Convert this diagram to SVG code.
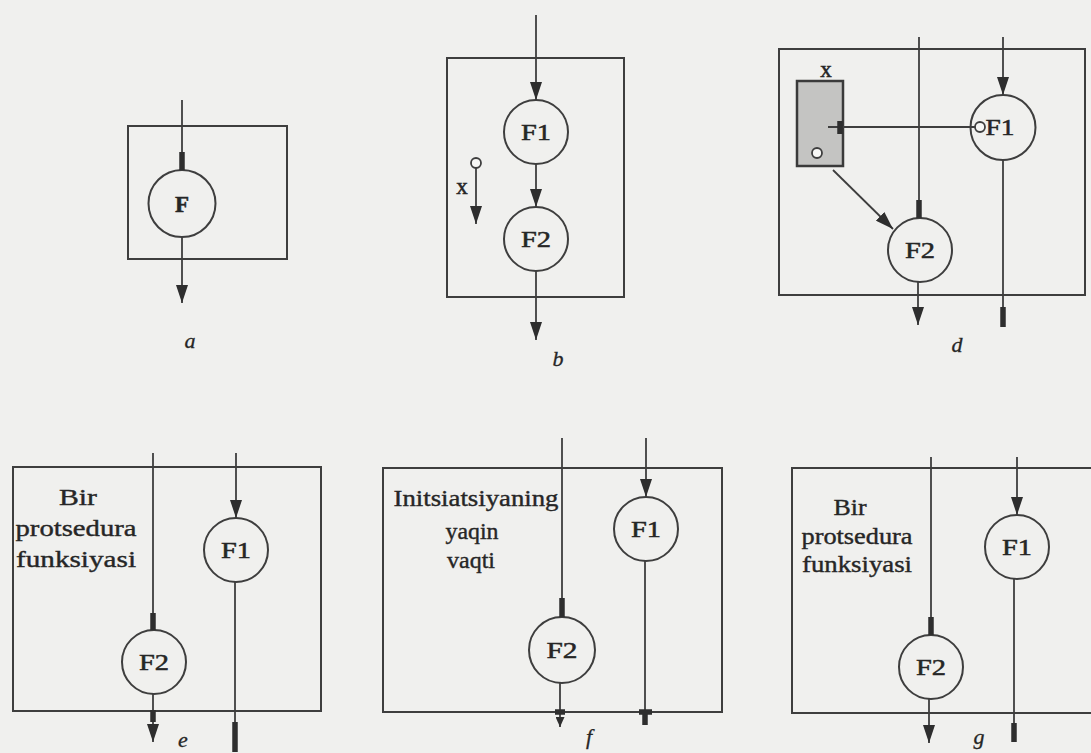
<svg xmlns="http://www.w3.org/2000/svg" width="1091" height="753" viewBox="0 0 1091 753">
<defs>
<style>
.bg{fill:#f0f0ee}
.box{fill:none;stroke:#3e3e3e;stroke-width:2}
.ln{fill:none;stroke:#3e3e3e;stroke-width:1.8}
.bar{fill:none;stroke:#2e2e2e;stroke-width:5.5}
.nd{fill:none;stroke:#3e3e3e;stroke-width:2}
.lbl{font-family:"Liberation Serif","Times New Roman",serif;font-size:23px;fill:#262626;stroke:#262626;stroke-width:0.5;text-anchor:middle}
.txt{font-family:"Liberation Serif","Times New Roman",serif;font-size:24px;fill:#262626;stroke:#262626;stroke-width:0.4;text-anchor:middle}
.cap{font-family:"Liberation Serif","Times New Roman",serif;font-size:22px;font-style:italic;fill:#262626;stroke:#262626;stroke-width:0.3;text-anchor:middle}
.dot{fill:#f7f7f5;stroke:#3e3e3e;stroke-width:1.8}
</style>
<marker id="arr" viewBox="0 0 18 12" refX="18" refY="6" markerWidth="18" markerHeight="12" markerUnits="userSpaceOnUse" orient="auto">
<path d="M0,0 L18,6 L0,12 z" fill="#2e2e2e"/>
</marker>
<marker id="arrS" viewBox="0 0 10 9" refX="10" refY="4.5" markerWidth="10" markerHeight="9" markerUnits="userSpaceOnUse" orient="auto">
<path d="M0,0 L10,4.5 L0,9 z" fill="#2e2e2e"/>
</marker>
</defs>
<rect class="bg" x="0" y="0" width="1091" height="753"/>

<!-- diagram a -->
<g id="box-a"><rect class="box" x="128" y="126" width="159" height="133"/></g>
<g id="node-a-F"><circle class="nd" cx="182" cy="203.5" r="33.5"/><text class="lbl" x="182" y="212" font-weight="bold">F</text></g>
<text class="cap" x="190" y="348">a</text>

<!-- diagram b -->
<g id="box-b"><rect class="box" x="447" y="58" width="177" height="239"/></g>
<g id="node-b-F1"><circle class="nd" cx="536" cy="132" r="32"/><text class="lbl" x="536" y="140" textLength="30" lengthAdjust="spacingAndGlyphs">F1</text></g>
<g id="node-b-F2"><circle class="nd" cx="536" cy="239" r="32"/><text class="lbl" x="536" y="247" textLength="30" lengthAdjust="spacingAndGlyphs">F2</text></g>
<g id="node-b-x"><circle class="dot" cx="476" cy="163" r="5"/><text class="lbl" x="462" y="194">x</text></g>
<text class="cap" x="558" y="366">b</text>

<!-- diagram d -->
<g id="box-d"><rect class="box" x="779" y="49" width="306" height="246"/></g>
<g id="node-d-x"><rect x="797" y="81" width="46" height="85" fill="#c4c4c2" stroke="#3a3a3a" stroke-width="2.5"/><circle class="dot" cx="817" cy="153" r="5"/><text class="lbl" x="826" y="77">x</text></g>
<g id="node-d-F1"><circle class="nd" cx="1003" cy="127.5" r="32.5"/><circle class="dot" cx="980" cy="127" r="5"/><text class="lbl" x="1000" y="135" textLength="29" lengthAdjust="spacingAndGlyphs">F1</text></g>
<g id="node-d-F2"><circle class="nd" cx="920" cy="250" r="32"/><text class="lbl" x="920" y="258" textLength="30" lengthAdjust="spacingAndGlyphs">F2</text></g>
<text class="cap" x="957" y="352">d</text>

<!-- diagram e -->
<g id="box-e"><rect class="box" x="13" y="467" width="308" height="244"/></g>
<g id="label-e"><text class="txt" x="78" y="505" textLength="38" lengthAdjust="spacingAndGlyphs">Bir</text><text class="txt" x="76" y="536" textLength="121" lengthAdjust="spacingAndGlyphs">protsedura</text><text class="txt" x="76" y="567" textLength="120" lengthAdjust="spacingAndGlyphs">funksiyasi</text></g>
<g id="node-e-F1"><circle class="nd" cx="236" cy="550" r="32"/><text class="lbl" x="236" y="558" textLength="30" lengthAdjust="spacingAndGlyphs">F1</text></g>
<g id="node-e-F2"><circle class="nd" cx="154" cy="662" r="32"/><text class="lbl" x="154" y="670" textLength="30" lengthAdjust="spacingAndGlyphs">F2</text></g>
<text class="cap" x="183" y="747">e</text>

<!-- diagram f -->
<g id="box-f"><rect class="box" x="383" y="468" width="339" height="244"/></g>
<g id="label-f"><text class="txt" x="476" y="506" textLength="165" lengthAdjust="spacingAndGlyphs">Initsiatsiyaning</text><text class="txt" x="472" y="539" textLength="53" lengthAdjust="spacingAndGlyphs">yaqin</text><text class="txt" x="471" y="568" textLength="48" lengthAdjust="spacingAndGlyphs">vaqti</text></g>
<g id="node-f-F1"><circle class="nd" cx="646" cy="529" r="32"/><text class="lbl" x="646" y="537" textLength="30" lengthAdjust="spacingAndGlyphs">F1</text></g>
<g id="node-f-F2"><circle class="nd" cx="562" cy="650" r="33"/><text class="lbl" x="562" y="658" textLength="31" lengthAdjust="spacingAndGlyphs">F2</text></g>
<text class="cap" x="589" y="744">f</text>

<!-- diagram g -->
<g id="box-g"><polyline class="box" points="1095,468 792,468 792,713 1095,713"/></g>
<g id="label-g"><text class="txt" x="850" y="515" textLength="33" lengthAdjust="spacingAndGlyphs">Bir</text><text class="txt" x="857" y="544" textLength="111" lengthAdjust="spacingAndGlyphs">protsedura</text><text class="txt" x="857" y="572" textLength="110" lengthAdjust="spacingAndGlyphs">funksiyasi</text></g>
<g id="node-g-F1"><circle class="nd" cx="1017" cy="547" r="32"/><text class="lbl" x="1017" y="555" textLength="30" lengthAdjust="spacingAndGlyphs">F1</text></g>
<g id="node-g-F2"><circle class="nd" cx="931" cy="667" r="32"/><text class="lbl" x="931" y="675" textLength="30" lengthAdjust="spacingAndGlyphs">F2</text></g>
<text class="cap" x="979" y="744">g</text>

<g id="connectors">
<!-- a -->
<line class="ln" x1="182" y1="100" x2="182" y2="170"/>
<line class="bar" x1="182" y1="152" x2="182" y2="170"/>
<line class="ln" x1="182" y1="237" x2="182" y2="303" marker-end="url(#arr)"/>
<!-- b -->
<line class="ln" x1="536" y1="15" x2="536" y2="100" marker-end="url(#arr)"/>
<line class="ln" x1="536" y1="164" x2="536" y2="207" marker-end="url(#arr)"/>
<line class="ln" x1="536" y1="271" x2="536" y2="340" marker-end="url(#arr)"/>
<line class="ln" x1="476" y1="168" x2="476" y2="224" marker-end="url(#arr)"/>
<!-- d -->
<line class="ln" x1="919" y1="37" x2="919" y2="218"/>
<line class="bar" x1="919" y1="200" x2="919" y2="218"/>
<line class="ln" x1="1003" y1="37" x2="1003" y2="95" marker-end="url(#arr)"/>
<line class="ln" x1="975" y1="127" x2="828" y2="127"/>
<line class="bar" x1="840" y1="121" x2="840" y2="134"/>
<line class="ln" x1="833" y1="170" x2="893" y2="229" marker-end="url(#arr)"/>
<line class="ln" x1="918" y1="282" x2="918" y2="325" marker-end="url(#arr)"/>
<line class="ln" x1="1003" y1="160" x2="1003" y2="310"/>
<line class="bar" x1="1003" y1="307" x2="1003" y2="327"/>
<!-- e -->
<line class="ln" x1="153" y1="453" x2="153" y2="630"/>
<line class="bar" x1="153" y1="613" x2="153" y2="630"/>
<line class="ln" x1="236" y1="453" x2="236" y2="518" marker-end="url(#arr)"/>
<line class="ln" x1="235" y1="582" x2="235" y2="724"/>
<line class="bar" x1="235" y1="722" x2="235" y2="752"/>
<line class="ln" x1="153" y1="694" x2="153" y2="742" marker-end="url(#arr)"/>
<line class="bar" x1="153" y1="710" x2="153" y2="722"/>
<!-- f -->
<line class="ln" x1="562" y1="438" x2="562" y2="617"/>
<line class="bar" x1="562" y1="598" x2="562" y2="617"/>
<line class="ln" x1="646" y1="438" x2="646" y2="497" marker-end="url(#arr)"/>
<line class="ln" x1="645" y1="561" x2="645" y2="712"/>
<line class="bar" x1="645" y1="710" x2="645" y2="725"/>
<line class="bar" x1="639" y1="712" x2="652" y2="712"/>
<line class="ln" x1="560" y1="683" x2="560" y2="727" marker-end="url(#arrS)"/>
<line class="bar" x1="555" y1="712" x2="565" y2="712"/>
<!-- g -->
<line class="ln" x1="931" y1="457" x2="931" y2="635"/>
<line class="bar" x1="931" y1="617" x2="931" y2="635"/>
<line class="ln" x1="1017" y1="457" x2="1017" y2="515" marker-end="url(#arr)"/>
<line class="ln" x1="1014" y1="579" x2="1014" y2="725"/>
<line class="bar" x1="1014" y1="723" x2="1014" y2="742"/>
<line class="ln" x1="929" y1="699" x2="929" y2="743" marker-end="url(#arr)"/>
</g>
</svg>
